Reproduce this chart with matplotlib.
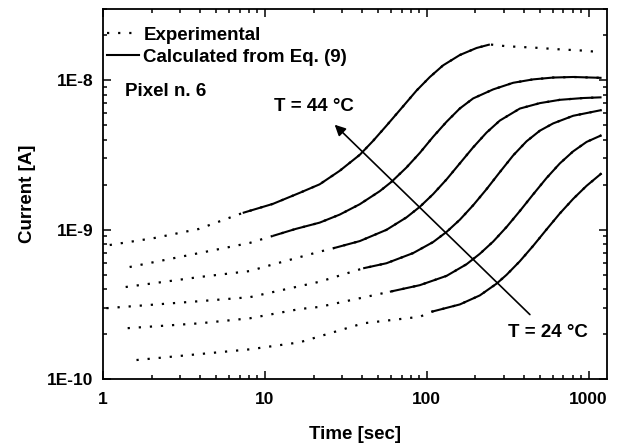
import numpy as np
import matplotlib
matplotlib.use("Agg")
import matplotlib.pyplot as plt
from matplotlib.lines import Line2D
from matplotlib.ticker import FixedLocator, FuncFormatter, LogLocator, NullFormatter

plt.rcParams['font.family'] = ['Liberation Sans', 'DejaVu Sans']
plt.rcParams['font.weight'] = 'bold'

# ---- data (time [s], current [A]) ----
# Calculated (Eq. 9) curves, T = 44, 40, 36, 32, 28, 24 C
calc_t_44 = [7.30, 11.2, 16.4, 21.8, 29.0, 38.6, 46.6, 56.4, 68.2, 86.5, 104.5, 126.3, 160.2, 203.2, 245.5]
calc_i_44 = [1.294e-9, 1.487e-9, 1.763e-9, 2.011e-9, 2.477e-9, 3.171e-9, 3.926e-9, 4.966e-9, 6.310e-9,
             8.530e-9, 1.051e-8, 1.259e-8, 1.476e-8, 1.645e-8, 1.737e-8]
calc_t_40 = [11.2, 15.5, 21.8, 29.0, 38.6, 51.3, 60.6, 75.0, 90.7, 109.5, 132.6, 160.2, 193.6, 257.3, 342.0,
             454.5, 604.3, 803.2, 1203]
calc_i_40 = [9.08e-10, 1.011e-9, 1.114e-9, 1.261e-9, 1.480e-9, 1.810e-9, 2.090e-9, 2.607e-9, 3.266e-9,
             4.182e-9, 5.275e-9, 6.476e-9, 7.560e-9, 8.687e-9, 9.620e-9, 1.014e-8, 1.043e-8, 1.052e-8,
             1.038e-8]
calc_t_36 = [26.4, 38.6, 56.4, 75.0, 90.7, 109.5, 132.6, 160.2, 193.6, 234.2, 283.0, 376.2, 500.0, 664.7,
             925.9, 1203]
calc_i_36 = [7.50e-10, 8.384e-10, 9.970e-10, 1.208e-9, 1.422e-9, 1.728e-9, 2.169e-9, 2.777e-9, 3.556e-9,
             4.464e-9, 5.374e-9, 6.466e-9, 7.031e-9, 7.398e-9, 7.606e-9, 7.690e-9]
calc_t_32 = [40.5, 56.4, 82.4, 109.5, 132.6, 160.2, 193.6, 234.2, 283.0, 342.0, 413.8, 500.0, 604.3,
             803.2, 1203]
calc_i_32 = [5.51e-10, 5.957e-10, 6.966e-10, 8.256e-10, 9.652e-10, 1.165e-9, 1.456e-9, 1.866e-9, 2.427e-9,
             3.138e-9, 3.903e-9, 4.596e-9, 5.144e-9, 5.785e-9, 6.318e-9]
calc_t_28 = [59.2, 90.7, 132.6, 176.2, 212.9, 257.3, 311.3, 376.2, 454.5, 550.0, 664.7, 803.2, 971.9, 1203]
calc_i_28 = [3.84e-10, 4.249e-10, 4.904e-10, 5.866e-10, 6.890e-10, 8.318e-10, 1.041e-9, 1.332e-9, 1.722e-9,
             2.216e-9, 2.777e-9, 3.343e-9, 3.866e-9, 4.287e-9]
calc_t_24 = [107.1, 160.2, 212.9, 270.0, 311.3, 376.2, 454.5, 550.0, 664.7, 803.2, 971.9, 1203]
calc_i_24 = [2.82e-10, 3.157e-10, 3.628e-10, 4.347e-10, 4.982e-10, 6.145e-10, 7.786e-10, 1.003e-9,
             1.284e-9, 1.607e-9, 1.965e-9, 2.383e-9]

# Experimental points outside the calculated range (inside it they follow the calculated curve)
exp_pre_t_44 = [1.10, 2.09, 3.90]
exp_pre_i_44 = [7.89e-10, 8.80e-10, 1.01e-9]
exp_post_t_44 = [311.3, 477.0, 664.7, 925.9, 1203]
exp_post_i_44 = [1.69e-8, 1.65e-8, 1.61e-8, 1.58e-8, 1.54e-8]
exp_pre_t_40 = [1.46, 3.96, 8.07]
exp_pre_i_40 = [5.62e-10, 6.98e-10, 8.15e-10]
exp_pre_t_36 = [1.38, 3.96, 8.07, 10.3, 21.8]
exp_pre_i_36 = [4.13e-10, 4.82e-10, 5.28e-10, 5.70e-10, 7.12e-10]
exp_pre_t_32 = [1.05, 3.96, 8.07, 21.8]
exp_pre_i_32 = [2.98e-10, 3.32e-10, 3.53e-10, 4.48e-10]
exp_pre_t_28 = [1.42, 3.96, 8.07, 16.4, 21.8]
exp_pre_i_28 = [2.19e-10, 2.36e-10, 2.55e-10, 2.94e-10, 3.04e-10]
exp_pre_t_24 = [1.61, 8.07, 16.4, 40.5, 90.7]
exp_pre_i_24 = [1.34e-10, 1.58e-10, 1.76e-10, 2.36e-10, 2.61e-10]

exp_series = [
    (exp_pre_t_44 + calc_t_44 + exp_post_t_44, exp_pre_i_44 + calc_i_44 + exp_post_i_44),
    (exp_pre_t_40 + calc_t_40, exp_pre_i_40 + calc_i_40),
    (exp_pre_t_36 + calc_t_36, exp_pre_i_36 + calc_i_36),
    (exp_pre_t_32 + calc_t_32, exp_pre_i_32 + calc_i_32),
    (exp_pre_t_28 + calc_t_28, exp_pre_i_28 + calc_i_28),
    (exp_pre_t_24 + calc_t_24, exp_pre_i_24 + calc_i_24),
]
calc_series = [(calc_t_44, calc_i_44), (calc_t_40, calc_i_40), (calc_t_36, calc_i_36),
               (calc_t_32, calc_i_32), (calc_t_28, calc_i_28), (calc_t_24, calc_i_24)]

x_ticks = [1, 10, 100, 1000]
y_ticks = [1e-10, 1e-9, 1e-8]

# ---- figure ----
fig = plt.figure(figsize=(6.22, 4.46), dpi=100)
ax = fig.add_axes([0.1656, 0.1502, 0.8103, 0.8296])
ax.set_xscale('log')
ax.set_yscale('log')
ax.set_xlim(1, 1300)
ax.set_ylim(1e-10, 3.0e-8)

dot_kw = dict(color='black', lw=1.6, linestyle=(0, (1.0, 4.0)), dash_capstyle='butt')
for t, i in exp_series:
    ax.plot(t, i, **dot_kw)
for t, i in calc_series:
    ax.plot(t, i, color='black', lw=1.5, solid_capstyle='butt', solid_joinstyle='round')

# arrow and temperature labels
ax.annotate('', xy=(27.0, 5.04e-9), xytext=(434, 2.70e-10),
            arrowprops=dict(arrowstyle='-|>', color='black', lw=1.2,
                            mutation_scale=16, shrinkA=0, shrinkB=0))
ax.text(20.1, 6.65e-9, 'T = 44 °C', fontsize=13.5, fontweight='bold', ha='center', va='center')
ax.text(560, 2.06e-10, 'T = 24 °C', fontsize=13.5, fontweight='bold', ha='center', va='center')
ax.text(1.36, 8.40e-9, 'Pixel n. 6', fontsize=13.5, fontweight='bold', ha='left', va='center')

# legend
handles = [Line2D([], [], **dot_kw), Line2D([], [], color='black', lw=1.5)]
ax.legend(handles, ['Experimental', 'Calculated from Eq. (9)'], loc='upper left',
          bbox_to_anchor=(0.0, 0.962), frameon=False, handlelength=1.7, handletextpad=0.25,
          borderaxespad=0.0, borderpad=0.2, labelspacing=0.25,
          prop=dict(size=13.5, weight='bold'))

# ticks
ax.xaxis.set_major_locator(FixedLocator(x_ticks))
ax.xaxis.set_major_formatter(FuncFormatter(lambda v, p: f"{v:g}"))
ax.xaxis.set_minor_locator(LogLocator(base=10, subs=np.arange(2, 10)))
ax.xaxis.set_minor_formatter(NullFormatter())
ax.yaxis.set_major_locator(FixedLocator(y_ticks))
ax.yaxis.set_major_formatter(FuncFormatter(lambda v, p: f"1E{int(round(np.log10(v)))}"))
ax.yaxis.set_minor_locator(LogLocator(base=10, subs=np.arange(2, 10)))
ax.yaxis.set_minor_formatter(NullFormatter())
ax.tick_params(which='both', direction='in', top=True, right=True, width=1.1, color='black')
ax.tick_params(which='major', length=5.5, labelsize=12.5)
ax.tick_params(which='minor', length=3.2)
ax.tick_params(axis='y', which='major', pad=7)
ax.tick_params(axis='x', which='major', pad=9)
for lab in ax.get_xticklabels() + ax.get_yticklabels():
    lab.set_fontweight('bold')
for s in ax.spines.values():
    s.set_linewidth(1.3)

ax.set_xlabel('Time [sec]', fontsize=13.5, fontweight='bold', labelpad=14)
ax.set_ylabel('Current [A]', fontsize=13.5, fontweight='bold', labelpad=8)

fig.savefig('out.png', dpi=100)
